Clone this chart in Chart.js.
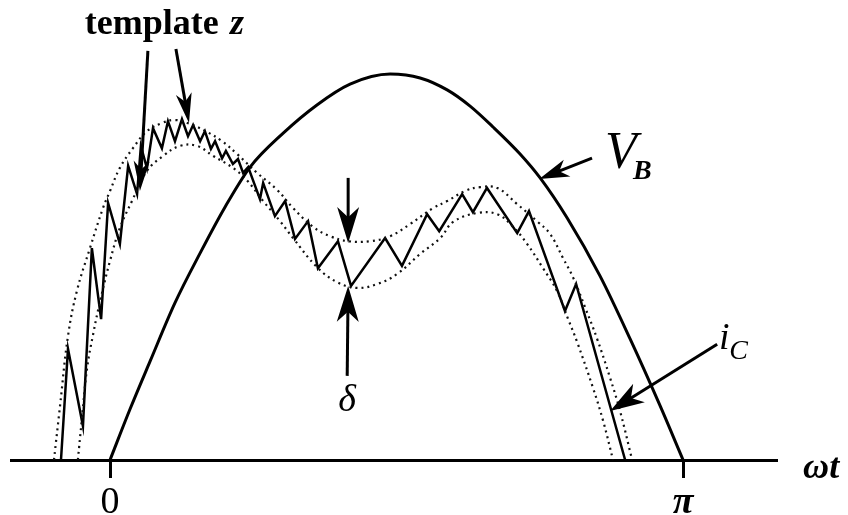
<!DOCTYPE html>
<html>
<head>
<meta charset="utf-8">
<script src="https://cdn.jsdelivr.net/npm/chart.js@4.4.1/dist/chart.umd.min.js"></script>
<style>
html, body { margin: 0; padding: 0; background: #fff; }
</style>
</head>
<body>
<canvas id="chart" width="848" height="515"></canvas>
<script>
// ωt in degrees (0 -> 0, 180 -> π), levels in % of the V_B peak
const vbT = [0, 6.3, 12.6, 20.4, 28.3, 36.1, 44.0, 54.4, 65.0, 75.4, 88.0, 97.4, 105.9, 113.1, 120.3, 128.8, 135.1, 143.6, 153.9, 163.4, 172.8, 180];
const vbV = [0, 13.2, 25.6, 40.7, 53.6, 65.5, 75.9, 84.7, 92.0, 97.4, 100, 99.0, 95.9, 91.7, 86.3, 79.3, 73.1, 62.7, 47.7, 31.3, 14.0, 0];

// upper edge of the template band
const upT = [-17.6, -15.7, -13.2, -10.4, -6.3, -2.2, 0, 3.1, 7.2, 11.6, 16.3, 20.4, 25.1, 30.5, 35.2, 39.9, 46.2, 52.5, 57.5, 63.8, 69.1, 74.8, 81.7, 88.0, 94.2, 101.5, 105.9, 111.5, 116.2, 121.6, 127.9, 134.1, 138.2, 142.3, 145.5, 149.2, 153.0, 157.1, 160.2, 164.0];
const upV = [0, 14.0, 32.1, 43.8, 54.9, 65.3, 69.7, 75.7, 80.8, 85.2, 87.3, 88.1, 87.1, 85.0, 82.6, 79.3, 74.4, 70.0, 65.3, 60.4, 58.0, 56.7, 56.7, 58.0, 61.1, 65.3, 67.1, 69.7, 70.7, 70.5, 66.3, 61.9, 58.6, 52.3, 47.2, 39.6, 31.4, 21.2, 12.7, 0];

// lower edge of the template band
const loT = [-10.1, -8.8, -7.2, -5.3, -3.1, 0, 3.1, 6.9, 11.6, 16.7, 22.0, 27.3, 32.4, 38.6, 43.0, 48.1, 53.4, 57.5, 65.0, 71.3, 77.6, 83.9, 90.2, 97.4, 103.7, 107.8, 115.3, 121.6, 126.6, 131.0, 136.0, 140.4, 143.9, 146.7, 151.7, 154.9, 158.0];
const loV = [0, 10.9, 23.8, 32.6, 41.2, 51.6, 60.1, 67.1, 74.9, 78.8, 81.4, 81.4, 78.8, 75.7, 72.5, 67.1, 61.9, 57.5, 50.0, 46.1, 44.6, 45.6, 48.2, 53.4, 57.5, 61.7, 64.0, 63.7, 60.4, 56.0, 49.7, 43.8, 36.5, 30.6, 18.7, 10.1, 0];

// switching current i_C (corners of the zigzag)
const icT = [-15.4, -13.2, -8.5, -5.7, -2.8, -0.6, 3.1, 5.7, 8.5, 9.7, 11.6, 13.5, 16.3, 18.2, 20.4, 22.6, 24.5, 26.1, 28.3, 29.8, 31.7, 33.0, 35.2, 36.4, 38.6, 40.2, 41.8, 43.4, 47.1, 48.1, 51.8, 55.0, 58.1, 62.2, 65.3, 71.6, 75.7, 86.4, 91.7, 99.6, 103.4, 110.6, 114.0, 118.4, 127.9, 131.6, 142.9, 146.4, 161.8];
const icV = [0, 28.8, 8.8, 54.9, 36.5, 66.6, 56.0, 76.2, 68.9, 81.3, 75.6, 86.0, 80.8, 87.8, 82.6, 88.3, 83.9, 86.8, 82.6, 85.2, 80.6, 82.6, 78.2, 80.1, 76.7, 78.0, 74.4, 75.9, 67.6, 71.8, 63.2, 67.1, 57.3, 61.9, 49.7, 56.7, 45.1, 57.5, 50.3, 63.7, 59.3, 68.9, 64.2, 70.5, 58.8, 64.5, 38.6, 45.6, 0];

const tickValues = [0, 180];
const tickLabels = ['0', 'π'];

const SERIF = '"Liberation Serif", "Times New Roman", serif';

// callouts, anchored in data units
const arrows = [
    { from: [11.9, 106.0], to: [9.4, 69.7], len: 30, half: 8 },
    { from: [20.7, 106.5], to: [24.8, 87.3], len: 30, half: 8 },
    { from: [151.4, 78.2], to: [134.8, 72.8], len: 30, half: 9 },
    { from: [74.8, 73.1], to: [74.8, 56.2], len: 36, half: 11 },
    { from: [74.5, 21.8], to: [74.8, 45.1], len: 36, half: 11 },
    { from: [190.7, 30.0], to: [157.1, 12.7], len: 34, half: 11 }
];
const labels = [
    { text: 'template', at: [-7.9, 110.4], font: 'bold 36px ' + SERIF },
    { text: 'z', at: [37.7, 110.4], font: 'italic bold 36px ' + SERIF },
    { text: 'V', at: [155.5, 75.6], font: 'italic 52px ' + SERIF },
    { text: 'B', at: [164.3, 72.8], font: 'italic bold 28px ' + SERIF },
    { text: 'δ', at: [74.5, 12.7], font: 'italic 38px ' + SERIF, align: 'center' },
    { text: 'i', at: [191.3, 28.8], font: 'italic 38px ' + SERIF },
    { text: 'C', at: [194.5, 26.2], font: 'italic 28px ' + SERIF },
    { text: 'ωt', at: [217.7, -4.7], font: 'italic bold 36px ' + SERIF }
];

function pts(xs, ys) {
    return xs.map((v, i) => ({ x: v, y: ys[i] }));
}

function drawArrow(ctx, x1, y1, x2, y2, len, half) {
    const a = Math.atan2(y2 - y1, x2 - x1);
    const c = Math.cos(a), s = Math.sin(a);
    ctx.beginPath();
    ctx.moveTo(x1, y1);
    ctx.lineTo(x2 - c * len * 0.6, y2 - s * len * 0.6);
    ctx.stroke();
    const bx = x2 - c * len, by = y2 - s * len;
    ctx.beginPath();
    ctx.moveTo(x2, y2);
    ctx.lineTo(bx - s * half, by + c * half);
    ctx.lineTo(x2 - c * len * 0.72, y2 - s * len * 0.72);
    ctx.lineTo(bx + s * half, by - c * half);
    ctx.closePath();
    ctx.fill();
}

const annotate = {
    id: 'annotate',
    afterDraw(chart) {
        const { ctx } = chart;
        const x = chart.scales.x, y = chart.scales.y;
        ctx.save();
        ctx.fillStyle = '#000';
        ctx.strokeStyle = '#000';
        ctx.lineWidth = 3;
        arrows.forEach(a => drawArrow(ctx, x.getPixelForValue(a.from[0]), y.getPixelForValue(a.from[1]),
            x.getPixelForValue(a.to[0]), y.getPixelForValue(a.to[1]), a.len, a.half));
        ctx.textBaseline = 'alphabetic';
        labels.forEach(l => {
            ctx.font = l.font;
            ctx.textAlign = l.align || 'left';
            ctx.fillText(l.text, x.getPixelForValue(l.at[0]), y.getPixelForValue(l.at[1]));
        });
        ctx.restore();
    }
};

const ctx = document.getElementById('chart').getContext('2d');
new Chart(ctx, {
    type: 'line',
    data: {
        datasets: [
            { label: 'V_B', data: pts(vbT, vbV), borderColor: '#000', borderWidth: 3, cubicInterpolationMode: 'monotone' },
            { label: 'template upper', data: pts(upT, upV), borderColor: '#111', borderWidth: 2.2, borderDash: [2, 4], tension: 0.4 },
            { label: 'template lower', data: pts(loT, loV), borderColor: '#111', borderWidth: 2.2, borderDash: [2, 4], tension: 0.4 },
            { label: 'i_C', data: pts(icT, icV), borderColor: '#000', borderWidth: 2.5, tension: 0, borderJoinStyle: 'miter' }
        ]
    },
    options: {
        responsive: false,
        animation: false,
        layout: { padding: { left: 11, right: 71, top: 0, bottom: 0 } },
        plugins: { legend: { display: false }, tooltip: { enabled: false } },
        elements: { point: { radius: 0 } },
        datasets: { line: { clip: false } },
        scales: {
            x: {
                type: 'linear',
                min: -31.1,
                max: 209.5,
                afterBuildTicks: axis => { axis.ticks = tickValues.map(v => ({ value: v })); },
                afterFit: axis => { axis.height = 55; },
                grid: { drawOnChartArea: false, drawTicks: true, tickLength: 18, tickWidth: 3, tickColor: '#000' },
                border: { display: true, color: '#000', width: 3 },
                ticks: {
                    autoSkip: false,
                    maxRotation: 0,
                    padding: 2,
                    color: '#000',
                    font: c => c.index === 1
                        ? { family: SERIF, size: 38, style: 'italic', weight: 'bold' }
                        : { family: SERIF, size: 38 },
                    callback: v => tickLabels[tickValues.indexOf(v)]
                }
            },
            y: { display: false, min: 0, max: 119.2 }
        }
    },
    plugins: [annotate]
});
</script>
</body>
</html>
